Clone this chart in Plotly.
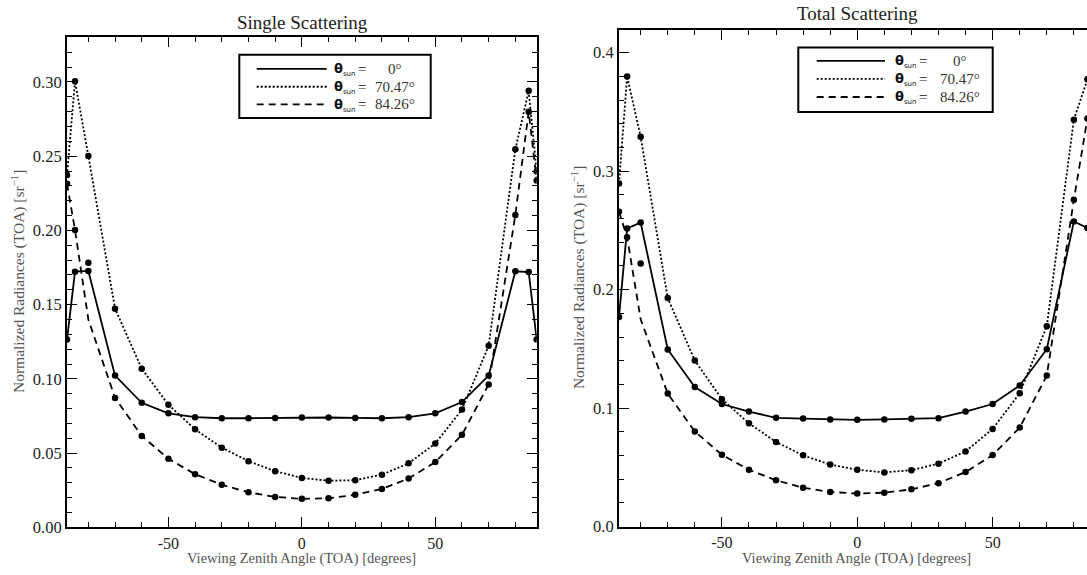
import plotly.graph_objects as go

# ---------------- data ----------------
vza = [-88, -85, -80, -70, -60, -50, -40, -30, -20, -10, 0,
       10, 20, 30, 40, 50, 60, 70, 80, 85, 88]

# Single scattering
single_0 = [0.1265, 0.1722, 0.1727, 0.1022, 0.0839, 0.0768, 0.0742, 0.0735, 0.0735, 0.0737, 0.0740,
            0.0740, 0.0737, 0.0735, 0.0742, 0.0768, 0.0844, 0.1022, 0.1725, 0.1720, 0.1265]
single_70 = [0.2373, 0.3005, 0.2501, 0.1473, 0.1069, 0.0826, 0.0660, 0.0537, 0.0446, 0.0378, 0.0333,
             0.0314, 0.0318, 0.0355, 0.0431, 0.0565, 0.0793, 0.1223, 0.2546, 0.2940, 0.2396]
single_84_line = [0.2314, 0.2003, 0.1400, 0.0872, 0.0616, 0.0462, 0.0358, 0.0287, 0.0236, 0.0205, 0.0192,
                  0.0196, 0.0219, 0.0259, 0.0329, 0.0440, 0.0623, 0.0963, 0.2104, 0.2800, 0.2336]
single_84_marks = [0.2314, 0.2003, 0.1782, 0.0872, 0.0616, 0.0462, 0.0358, 0.0287, 0.0236, 0.0205, 0.0192,
                   0.0196, 0.0219, 0.0259, 0.0329, 0.0440, 0.0623, 0.0963, 0.2104, 0.2800, 0.2336]

# Total scattering
total_0 = [0.1770, 0.2517, 0.2566, 0.1496, 0.1178, 0.1035, 0.0971, 0.0919, 0.0912, 0.0905, 0.0902,
           0.0905, 0.0911, 0.0916, 0.0971, 0.1035, 0.1192, 0.1498, 0.2575, 0.2520, 0.1770]
total_70 = [0.2897, 0.3800, 0.3290, 0.1929, 0.1402, 0.1076, 0.0872, 0.0715, 0.0602, 0.0524, 0.0480,
            0.0458, 0.0477, 0.0532, 0.0635, 0.0825, 0.1126, 0.1691, 0.3435, 0.3775, 0.2900]
total_84_line = [0.2658, 0.2442, 0.1750, 0.1123, 0.0803, 0.0607, 0.0480, 0.0392, 0.0328, 0.0293, 0.0279,
                 0.0287, 0.0315, 0.0367, 0.0461, 0.0604, 0.0836, 0.1275, 0.2759, 0.3445, 0.2700]
total_84_marks = [0.2658, 0.2442, 0.2221, 0.1123, 0.0803, 0.0607, 0.0480, 0.0392, 0.0328, 0.0293, 0.0279,
                  0.0287, 0.0315, 0.0367, 0.0461, 0.0604, 0.0836, 0.1275, 0.2759, 0.3445, 0.2700]

x_tickvals = [-50, 0, 50]
x_ticktext = ["-50", "0", "50"]
sun_angles = ["0°", "70.47°", "84.26°"]
titles = ["Single Scattering", "Total Scattering"]
x_title = "Viewing Zenith Angle (TOA) [degrees]"
y_title = "Normalized Radiances (TOA) [sr<sup>−1</sup>]"

# ---------------- layout helpers ----------------
W, H = 1087, 575
def px(x):
    return x / W
def py(y):
    return 1 - y / H

SERIF = "Liberation Serif"
dashes = ["solid", "2px,2px", "7px,5px"]
LW = 1.8
MS = 6.5

fig = go.Figure()

panels = [
    dict(xa="x", ya="y", series=[(single_0, single_0), (single_70, single_70), (single_84_line, single_84_marks)]),
    dict(xa="x2", ya="y2", series=[(total_0, total_0), (total_70, total_70), (total_84_line, total_84_marks)]),
]
for p in panels:
    for (yl, ym), d in zip(p["series"], dashes):
        fig.add_trace(go.Scatter(x=vza, y=yl, mode="lines", xaxis=p["xa"], yaxis=p["ya"],
                                 line=dict(color="black", width=LW, dash=d), showlegend=False,
                                 hoverinfo="skip"))
        fig.add_trace(go.Scatter(x=vza, y=ym, mode="markers", xaxis=p["xa"], yaxis=p["ya"],
                                 marker=dict(color="black", size=MS), showlegend=False))

# Plot areas (pixels)
L = dict(x0=67, x1=536.7, top=37.3, bot=536.7)
R = dict(x0=619, x1=1087, top=30.7, bot=536.0)

axis_common = dict(showline=True, linecolor="black", linewidth=2, ticks="inside",
                   tickcolor="black", tickwidth=1.3, ticklen=10, showgrid=False, zeroline=False,
                   tickfont=dict(family=SERIF, size=16.5, color="#222"))
minor_common = dict(ticks="inside", ticklen=5, tickcolor="black", tickwidth=1.2)
xtickfont = dict(family=SERIF, size=16, color="#222")

fig.update_layout(
    width=W, height=H,
    margin=dict(l=0, r=0, t=0, b=0),
    paper_bgcolor="white", plot_bgcolor="white",
    showlegend=False,
    xaxis=dict(domain=[px(L["x0"]), px(L["x1"])], range=[-88, 88], anchor="y",
               tickvals=x_tickvals, ticktext=x_ticktext, mirror="allticks",
               minor=dict(dtick=10, tick0=0, **minor_common), **axis_common),
    yaxis=dict(domain=[py(L["bot"]), py(L["top"])], range=[0, 0.3305], anchor="x",
               dtick=0.05, tick0=0, tickformat=".2f", mirror="allticks",
               minor=dict(dtick=0.01, tick0=0, **minor_common), **axis_common),
    xaxis2=dict(domain=[px(R["x0"]), 1.0], range=[-88, 84.85], anchor="y2",
                tickvals=x_tickvals, ticktext=x_ticktext, mirror="allticks",
                minor=dict(dtick=10, tick0=0, **minor_common), **axis_common),
    yaxis2=dict(domain=[py(R["bot"]), py(R["top"])], range=[0, 0.419], anchor="x2",
                dtick=0.1, tick0=0, tickformat=".1f", mirror=False,
                minor=dict(dtick=0.02, tick0=0, **minor_common), **axis_common),
)
fig.update_xaxes(tickfont=xtickfont)

ann = []
shapes = []
# Titles
ann.append(dict(text=titles[0], x=px(302), y=py(23), xref="paper", yref="paper", showarrow=False,
                font=dict(family=SERIF, size=19, color="#222"), xanchor="center", yanchor="middle"))
ann.append(dict(text=titles[1], x=px(857), y=py(14), xref="paper", yref="paper", showarrow=False,
                font=dict(family=SERIF, size=19, color="#222"), xanchor="center", yanchor="middle"))
# Axis titles
for cx, cy in [(301, 568.5), (856, 568.5)]:
    ann.append(dict(text=x_title, x=px(cx), y=py(cy), xref="paper", yref="paper", showarrow=False,
                    font=dict(family=SERIF, size=14.5, color="#555"), xanchor="center", yanchor="middle",
                    borderpad=0))
for cx, cy in [(18, 287), (578, 283)]:
    ann.append(dict(text=y_title, x=px(cx), y=py(cy), xref="paper", yref="paper", showarrow=False,
                    textangle=-90, font=dict(family=SERIF, size=15.5, color="#555"),
                    xanchor="center", yanchor="middle"))

# Legends (drawn manually)
legends = [
    dict(box=(239.3, 55.7, 430.7, 120.0), lx=(256.7, 326.7), rows=[70.0, 88.3, 106.3],
         theta_x=331.5, eq_x=361.7, val_x=395.0),
    dict(box=(798.3, 48.3, 992.7, 114.0), lx=(816.7, 885.0), rows=[62.0, 80.3, 98.7],
         theta_x=893.0, eq_x=923.3, val_x=960.0),
]
for lg in legends:
    bx0, by0, bx1, by1 = lg["box"]
    shapes.append(dict(type="rect", xref="paper", yref="paper", x0=px(bx0), x1=px(bx1),
                       y0=py(by1), y1=py(by0), line=dict(color="black", width=2), fillcolor="white",
                       layer="above"))
    for ry, d, lab in zip(lg["rows"], dashes, sun_angles):
        shapes.append(dict(type="line", xref="paper", yref="paper", x0=px(lg["lx"][0]), x1=px(lg["lx"][1]),
                           y0=py(ry), y1=py(ry), line=dict(color="black", width=LW, dash=d), layer="above"))
        ann.append(dict(text="<b>θ</b><sub><span style='font-size:7px'>sun</span></sub>",
                        x=px(lg["theta_x"]), y=py(ry + 1), xref="paper", yref="paper",
                        showarrow=False, font=dict(family="DejaVu Sans", size=13, color="#111"),
                        xanchor="left", yanchor="middle"))
        ann.append(dict(text="=", x=px(lg["eq_x"]), y=py(ry), xref="paper", yref="paper",
                        showarrow=False, font=dict(family=SERIF, size=15, color="#111"),
                        xanchor="center", yanchor="middle"))
        ann.append(dict(text=lab, x=px(lg["val_x"]), y=py(ry), xref="paper", yref="paper",
                        showarrow=False, font=dict(family=SERIF, size=15, color="#333"),
                        xanchor="center", yanchor="middle"))

fig.update_layout(annotations=ann, shapes=shapes)
fig.write_html("out.html")
